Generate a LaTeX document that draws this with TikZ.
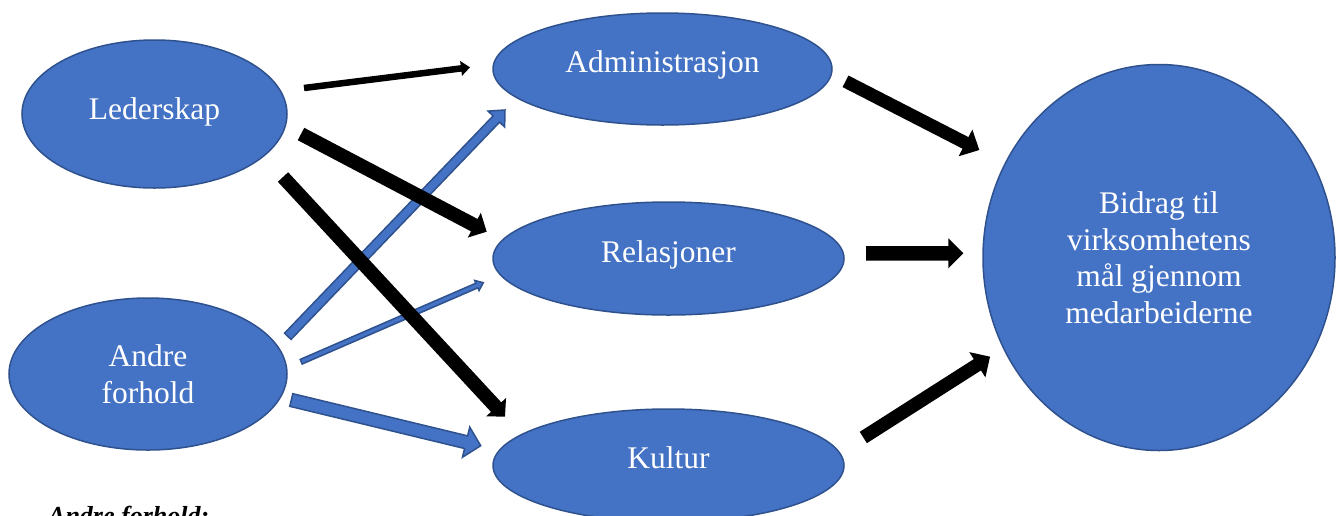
\documentclass[tikz,border=0pt]{standalone}
\usepackage{fontspec}
\setmainfont{Liberation Serif}
\definecolor{fillblue}{HTML}{4472C4}
\definecolor{edgeblue}{HTML}{2F528F}
\newcommand\blockarrow[6]{%
  \pgfmathanglebetweenpoints{\pgfpointanchor{#1}{center}}{\pgfpointanchor{#2}{center}}%
  \edef\baang{\pgfmathresult}%
  \pgfpointdiff{\pgfpointanchor{#1}{center}}{\pgfpointanchor{#2}{center}}%
  \pgfgetlastxy{\bax}{\bay}%
  \pgfmathsetmacro\balen{veclen(\bax,\bay)}%
  \draw[#6, shift={(#1)}, rotate=\baang] (0pt,-#3) -- ({\balen pt-#5},-#3) -- ({\balen pt-#5},-#4) -- (\balen pt,0pt) -- ({\balen pt-#5},#4) -- ({\balen pt-#5},#3) -- (0pt,#3) -- cycle;
}
\newcommand\lifted[2]{\raisebox{#1}[\height][\depth]{#2}}
\tikzset{
  oval/.style={ellipse, draw=edgeblue, line width=1.5pt, fill=fillblue, text=white, inner sep=0pt, align=center, font=\fontsize{31.5}{36.5}\selectfont},
  blackarrow/.style={fill=black, draw=none},
  bluearrow/.style={fill=fillblue, draw=edgeblue, line width=1.5pt, line join=miter},
}
\usetikzlibrary{shapes.geometric}
\begin{document}
\begin{tikzpicture}[x=1pt, y=-1pt]
\useasboundingbox (0,0) rectangle (1343,515);
\fill[white] (0,0) rectangle (1343,515);
% ellipses
\node[oval, minimum width=265pt, minimum height=148pt] (lead) at (154.5,114) {\lifted{2.5pt}{Lederskap}};
\node[oval, minimum width=278pt, minimum height=152pt] (andre) at (148,374) {Andre\\forhold};
\node[oval, minimum width=339pt, minimum height=112pt] (admin) at (662.5,69) {\lifted{4pt}{Administrasjon}};
\node[oval, minimum width=351pt, minimum height=113pt] (rel) at (668.5,258.5) {\lifted{4pt}{Relasjoner}};
\node[oval, minimum width=351pt, minimum height=113pt] (kult) at (668.5,465.5) {\lifted{8pt}{Kultur}};
\node[oval, minimum width=352pt, minimum height=386pt] (bidrag) at (1159,257.5) {Bidrag til\\virksomhetens\\mål gjennom\\medarbeiderne};
% arrow end points
\coordinate (a1s) at (304,88);     \coordinate (a1e) at (470,67.3);
\coordinate (a2s) at (301,134);    \coordinate (a2e) at (486.7,231.7);
\coordinate (a3s) at (283,177);    \coordinate (a3e) at (505,416.7);
\coordinate (a4s) at (845.5,81.3); \coordinate (a4e) at (979.3,150);
\coordinate (a5s) at (866,253.3);  \coordinate (a5e) at (963.3,253.3);
\coordinate (a6s) at (863.3,437.5);\coordinate (a6e) at (990,356.7);
\coordinate (b1s) at (287.8,336.3);\coordinate (b1e) at (505,110);
\coordinate (b2s) at (301.2,361.7);\coordinate (b2e) at (483.3,282.7);
\coordinate (b3s) at (291.3,400);  \coordinate (b3e) at (480.7,445.7);
% blue arrows
\blockarrow{b1s}{b1e}{4.5pt}{11.5pt}{12.5pt}{bluearrow}
\blockarrow{b2s}{b2e}{2.5pt}{5.5pt}{7pt}{bluearrow}
\blockarrow{b3s}{b3e}{6.5pt}{15.5pt}{15pt}{bluearrow}
% black arrows
\blockarrow{a1s}{a1e}{3.25pt}{7.5pt}{9pt}{blackarrow}
\blockarrow{a2s}{a2e}{7pt}{14pt}{14pt}{blackarrow}
\blockarrow{a3s}{a3e}{7pt}{13.5pt}{13pt}{blackarrow}
\blockarrow{a4s}{a4e}{6.5pt}{15pt}{15.5pt}{blackarrow}
\blockarrow{a5s}{a5e}{7.3pt}{15pt}{15pt}{blackarrow}
\blockarrow{a6s}{a6e}{6.7pt}{15pt}{15pt}{blackarrow}
% caption (cut off at bottom, as in the reference)
\node[anchor=base west, inner sep=0pt, font=\fontsize{26}{30}\selectfont\bfseries\itshape] (cap) at (48,524) {Andre forhold:};
\end{tikzpicture}
\end{document}
